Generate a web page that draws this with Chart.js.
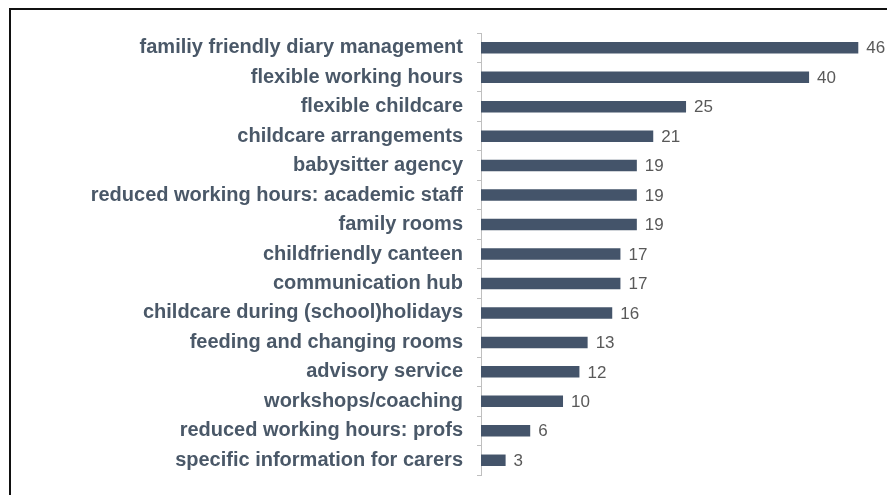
<!DOCTYPE html>
<html>
<head>
<meta charset="utf-8">
<script src="https://cdn.jsdelivr.net/npm/chart.js@4"></script>
<style>
  html, body { margin: 0; padding: 0; background: #fff; overflow: hidden; }
  #wrap { position: relative; width: 887px; height: 495px; }
  #frame { position: absolute; left: 9px; top: 8px; width: 900px; height: 520px; border: 2px solid #111; box-sizing: border-box; }
  canvas { position: absolute; left: 0; top: 0; }
</style>
</head>
<body>
<div id="wrap">
  <div id="frame"></div>
  <canvas id="barChart" width="887" height="495"></canvas>
</div>
<script>
const categories = [
    'familiy friendly diary management',
    'flexible working hours',
    'flexible childcare',
    'childcare arrangements',
    'babysitter agency',
    'reduced working hours: academic staff',
    'family rooms',
    'childfriendly canteen',
    'communication hub',
    'childcare during (school)holidays',
    'feeding and changing rooms',
    'advisory service',
    'workshops/coaching',
    'reduced working hours: profs',
    'specific information for carers'
];
const counts = [46, 40, 25, 21, 19, 19, 19, 17, 17, 16, 13, 12, 10, 6, 3];

const valueLabels = {
    id: 'valueLabels',
    afterDatasetsDraw(chart) {
        const ctx = chart.ctx;
        const meta = chart.getDatasetMeta(0);
        ctx.save();
        ctx.font = '17px "Liberation Sans", Arial, sans-serif';
        ctx.fillStyle = '#595959';
        ctx.textAlign = 'left';
        ctx.textBaseline = 'middle';
        meta.data.forEach((bar, i) => {
            ctx.fillText(counts[i], bar.x + 8, bar.y + 1);
        });
        ctx.restore();
    }
};

const ctx = document.getElementById('barChart').getContext('2d');
new Chart(ctx, {
    type: 'bar',
    data: {
        labels: categories,
        datasets: [{
            data: counts,
            backgroundColor: '#44546A',
            barPercentage: 0.39,
            categoryPercentage: 1.0
        }]
    },
    options: {
        indexAxis: 'y',
        responsive: false,
        animation: false,
        layout: { padding: { top: 33, bottom: 20, left: 0, right: 0 } },
        plugins: {
            legend: { display: false },
            tooltip: { enabled: false }
        },
        scales: {
            x: {
                display: false,
                min: 0,
                max: 49.5
            },
            y: {
                afterFit: s => {
                    s.width = 481;
                    s.paddingTop = 0;
                    s.paddingBottom = 0;
                },
                grid: {
                    drawOnChartArea: false,
                    tickLength: 4,
                    color: '#BFBFBF'
                },
                border: { color: '#BFBFBF', width: 1 },
                ticks: {
                    padding: 14,
                    color: '#4A5868',
                    font: { family: '"Liberation Sans", Arial, sans-serif', size: 20, weight: 'bold' }
                }
            }
        }
    },
    plugins: [valueLabels]
});
</script>
</body>
</html>
